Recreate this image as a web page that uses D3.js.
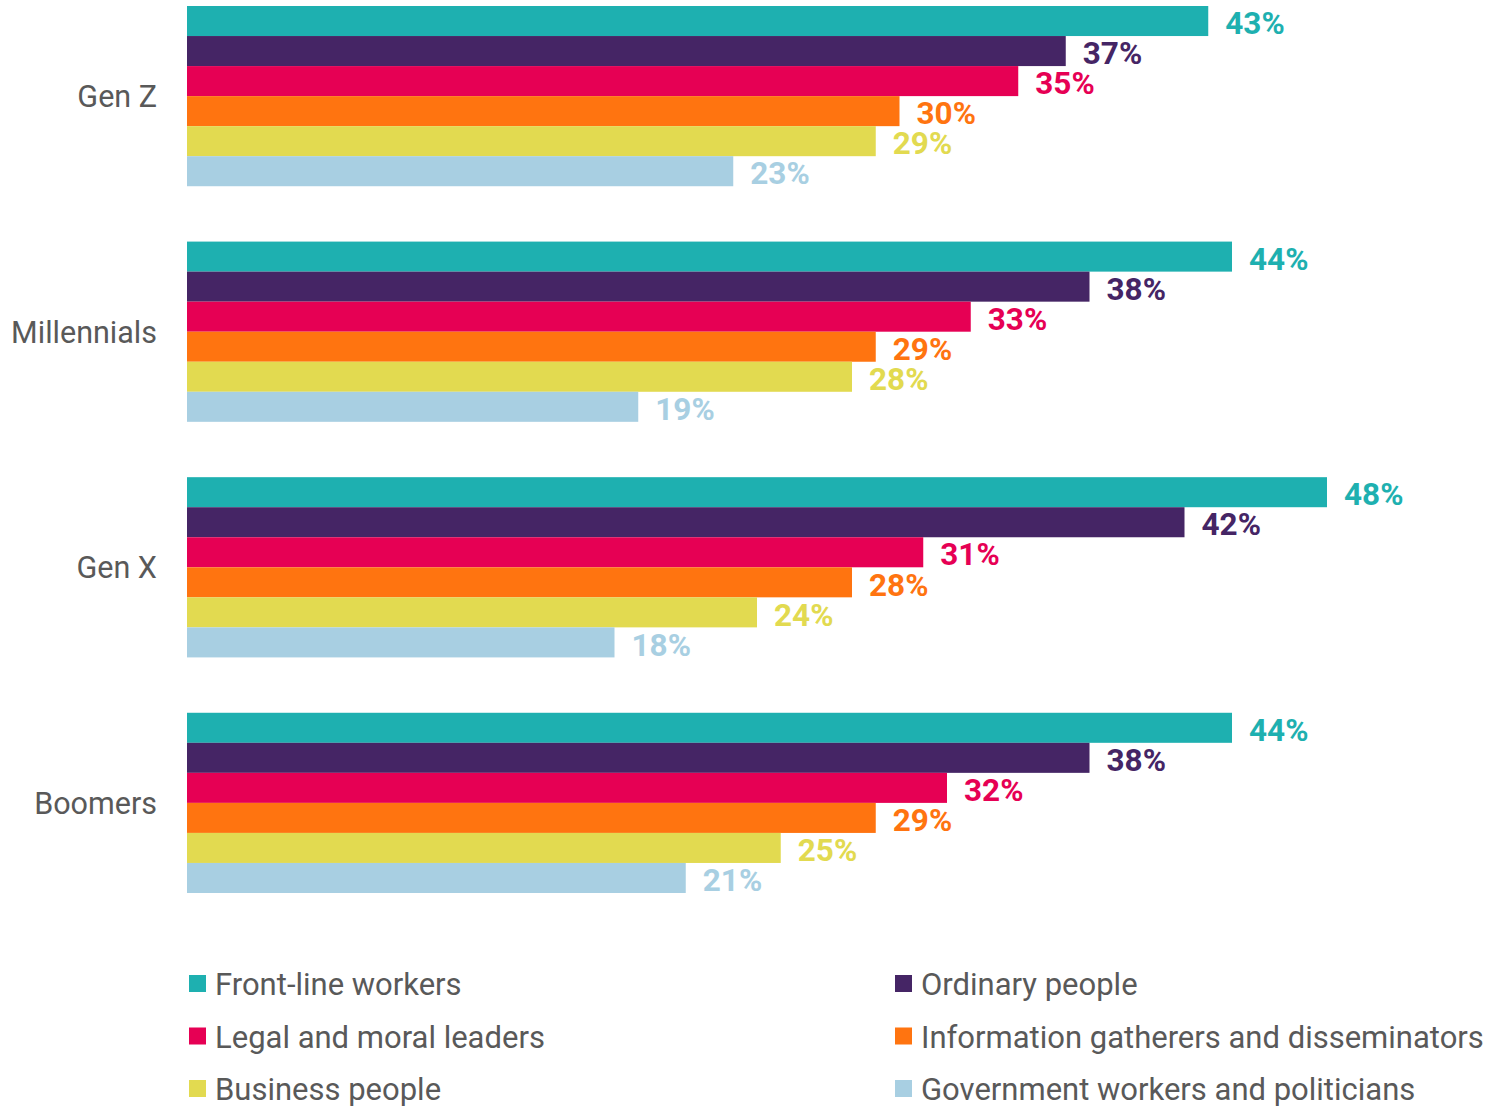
<!DOCTYPE html>
<html>
<head>
<meta charset="utf-8">
<script src="https://cdn.jsdelivr.net/npm/d3@7"></script>
<style>
  body { margin: 0; background: #fff; }
</style>
</head>
<body>
<div id="chart"></div>
<script>
// Groups (rows) and series
const generations = ["Gen Z", "Millennials", "Gen X", "Boomers"];
const seriesNames = [
    "Front-line workers",
    "Ordinary people",
    "Legal and moral leaders",
    "Information gatherers and disseminators",
    "Business people",
    "Government workers and politicians"
];
const seriesColors = ["#1eb0b0", "#452565", "#e60054", "#ff7410", "#e2da50", "#a8cfe2"];

// values in %, one array per series, ordered like generations
const frontLine   = [43, 44, 48, 44];
const ordinary    = [37, 38, 42, 38];
const legalMoral  = [35, 33, 31, 32];
const infoGather  = [30, 29, 28, 29];
const business    = [29, 28, 24, 25];
const government  = [23, 19, 18, 21];
const seriesValues = [frontLine, ordinary, legalMoral, infoGather, business, government];

const width = 1506;
const height = 1108;

const svg = d3.select("#chart")
    .append("svg")
    .attr("width", width)
    .attr("height", height)
    .style("font-family", "Roboto, 'Noto Sans', sans-serif");

// -- Scales --
const x = d3.scaleLinear().domain([0, 48]).range([187, 1327]);

const y0 = d3.scaleBand()
    .domain(generations)
    .range([6, 893])
    .paddingInner(0.235);

const y1 = d3.scaleBand()
    .domain(seriesNames)
    .range([0, y0.bandwidth()]);

const color = d3.scaleOrdinal().domain(seriesNames).range(seriesColors);

// -- Category labels --
svg.append("g")
    .selectAll("text")
    .data(generations)
    .join("text")
    .attr("x", 157)
    .attr("y", d => y0(d) + y0.bandwidth() / 2)
    .attr("dy", "0.36em")
    .attr("text-anchor", "end")
    .style("font-size", "30.5px")
    .style("fill", "#595959")
    .text(d => d);

// -- Bars --
const rows = generations.map((g, gi) => ({
    gen: g,
    items: seriesNames.map((s, si) => ({ gen: g, series: s, value: seriesValues[si][gi] }))
}));

const groups = svg.append("g")
    .selectAll("g")
    .data(rows)
    .join("g")
    .attr("transform", d => `translate(0,${y0(d.gen)})`);

groups.selectAll("rect")
    .data(d => d.items)
    .join("rect")
    .attr("x", x(0))
    .attr("y", d => y1(d.series))
    .attr("width", d => x(d.value) - x(0))
    .attr("height", y1.bandwidth())
    .attr("fill", d => color(d.series));

// value labels
groups.selectAll("text")
    .data(d => d.items)
    .join("text")
    .attr("x", d => x(d.value) + 17)
    .attr("y", d => y1(d.series) + y1.bandwidth() / 2)
    .attr("dy", "0.42em")
    .style("font-size", "31.5px")
    .style("font-weight", "700")
    .style("fill", d => color(d.series))
    .text(d => d.value + "%");

// -- Legend --
const legend = svg.append("g")
    .selectAll("g")
    .data(seriesNames)
    .join("g")
    .attr("transform", (d, i) => `translate(${i % 2 === 0 ? 189 : 895},${975 + Math.floor(i / 2) * 52.5})`);

legend.append("rect")
    .attr("width", 17)
    .attr("height", 17)
    .attr("fill", d => color(d));

legend.append("text")
    .attr("x", 26)
    .attr("y", 20)
    .style("font-size", "31px")
    .style("fill", "#595959")
    .text(d => d);
</script>
</body>
</html>
